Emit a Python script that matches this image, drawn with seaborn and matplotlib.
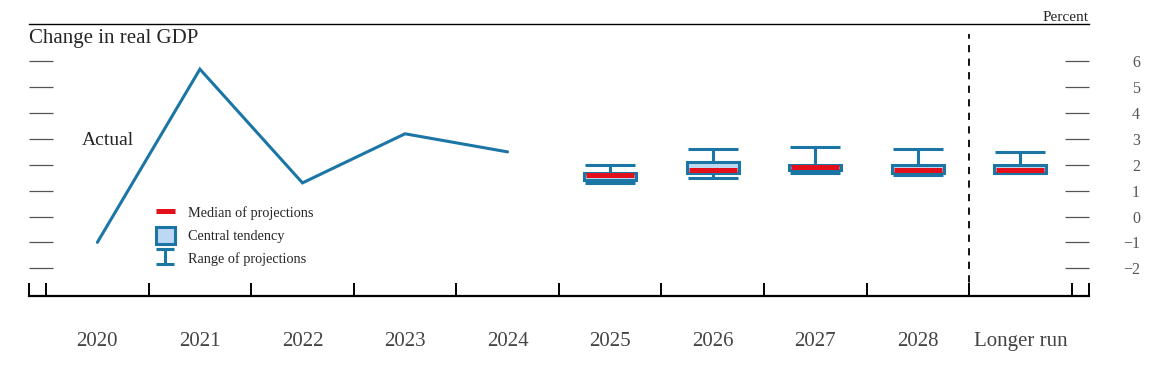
import numpy as np
import pandas as pd
import matplotlib.pyplot as plt
import seaborn as sns
from matplotlib.lines import Line2D
from matplotlib.patches import Patch

# ==============================================================================
# DADOS
# ==============================================================================
categorias = ['2020', '2021', '2022', '2023', '2024',
              '2025', '2026', '2027', '2028', 'Longer run']

anos_real = ['2020', '2021', '2022', '2023', '2024']
pib_real = [-1.0, 5.7, 1.3, 3.2, 2.5]

anos_proj = ['2025', '2026', '2027', '2028', 'Longer run']
mediana = [1.6, 1.8, 1.9, 1.8, 1.8]
tendencia_min = [1.4, 1.7, 1.8, 1.7, 1.7]
tendencia_max = [1.7, 2.1, 2.0, 2.0, 2.0]
faixa_min = [1.3, 1.5, 1.7, 1.6, 1.7]
faixa_max = [2.0, 2.6, 2.7, 2.6, 2.5]

y_ticks = [-2, -1, 0, 1, 2, 3, 4, 5, 6]

# ==============================================================================
# ESTILO
# ==============================================================================
AZUL = '#1B76A6'
AZUL_CLARO = '#BDD8F3'
VERMELHO = '#E3101B'

sns.set_style('white')
plt.rcParams['font.family'] = ['Liberation Serif', 'DejaVu Serif']

pos = {c: i for i, c in enumerate(categorias)}
real = pd.DataFrame({'x': [pos[a] for a in anos_real], 'y': pib_real})
x_proj = np.array([pos[a] for a in anos_proj])
mediana = np.array(mediana)

fig = plt.figure(figsize=(11.68, 3.76), dpi=100)
ax = fig.add_axes([29 / 1168, 80 / 376, 1059.7 / 1168, 272 / 376])

# linha dos valores observados
sns.lineplot(data=real, x='x', y='y', color=AZUL, linewidth=2.2, ax=ax,
             solid_joinstyle='miter')

# faixa das projeções
ax.errorbar(x_proj, mediana,
            yerr=[mediana - np.array(faixa_min), np.array(faixa_max) - mediana],
            fmt='none', ecolor=AZUL, elinewidth=2.2, capsize=18, capthick=2.2,
            zorder=2)
# tendência central
ax.bar(x_proj, np.array(tendencia_max) - np.array(tendencia_min),
       bottom=tendencia_min, width=0.51, color=AZUL_CLARO, edgecolor=AZUL,
       linewidth=2.2, zorder=3)
# mediana
ax.plot(x_proj, mediana, ls='none', marker='_', ms=34, mew=3.6,
        color=VERMELHO, zorder=4)

ax.axvline(8.5, ymin=0, ymax=0.965, color='black', lw=1.3,
           ls=(0, (4, 3.5)))

# eixos
ax.set_xlim(-2 / 3, 9 + 2 / 3)
ax.set_ylim(-3.075, 7.447)
ax.set_xlabel('')
ax.set_ylabel('')

ax.set_xticks(range(len(categorias)))
ax.set_xticklabels(categorias)
ax.set_xticks([-2 / 3] + [i - 0.5 for i in range(len(categorias) + 1)]
              + [9 + 2 / 3], minor=True)
ax.tick_params(axis='x', which='major', length=0, pad=26,
               labelsize=15, labelcolor='#444444')
ax.tick_params(axis='x', which='minor', direction='in', length=9.5,
               width=1.4, color='black', bottom=True)

ax.set_yticks(y_ticks)
ax.set_yticklabels([f'{v}'.replace('-', '\u2212') for v in y_ticks])
ax.tick_params(axis='y', direction='in', length=17.5, width=0.9,
               color='#555555', left=True, right=True,
               labelleft=False, labelright=True, pad=37,
               labelsize=11.5, labelcolor='#555555')
for rotulo in ax.get_yticklabels():
    rotulo.set_horizontalalignment('right')

for lado in ['left', 'right']:
    ax.spines[lado].set_visible(False)
ax.spines['bottom'].set_linewidth(1.6)
ax.spines['bottom'].set_color('black')
ax.spines['top'].set_linewidth(1.0)
ax.spines['top'].set_color('black')

# textos
ax.text(0, 0.945, 'Change in real GDP', transform=ax.transAxes,
        fontsize=15, va='center', ha='left')
ax.text(1.0, 1.024, 'Percent', transform=ax.transAxes, fontsize=11,
        va='center', ha='right')
ax.text(-0.15, 2.95, 'Actual', fontsize=14, va='center', ha='left')

# legenda
proxy_faixa = ax.errorbar([np.nan], [np.nan], yerr=[[np.nan], [np.nan]],
                          fmt='none', ecolor=AZUL, elinewidth=2.2,
                          capsize=6.5, capthick=2.2)
handles = [Line2D([], [], color=VERMELHO, lw=3.6, solid_capstyle='butt'),
           Patch(facecolor=AZUL_CLARO, edgecolor=AZUL, linewidth=2.2),
           proxy_faixa]
labels = ['Median of projections', 'Central tendency', 'Range of projections']
ax.legend(handles, labels, loc='upper left', bbox_to_anchor=(0.12, 0.338),
          frameon=False, fontsize=10.3, handlelength=1.3, handleheight=1.4,
          handletextpad=0.95, labelspacing=0.45, borderpad=0, borderaxespad=0)

fig.savefig('out.png', dpi=100)
